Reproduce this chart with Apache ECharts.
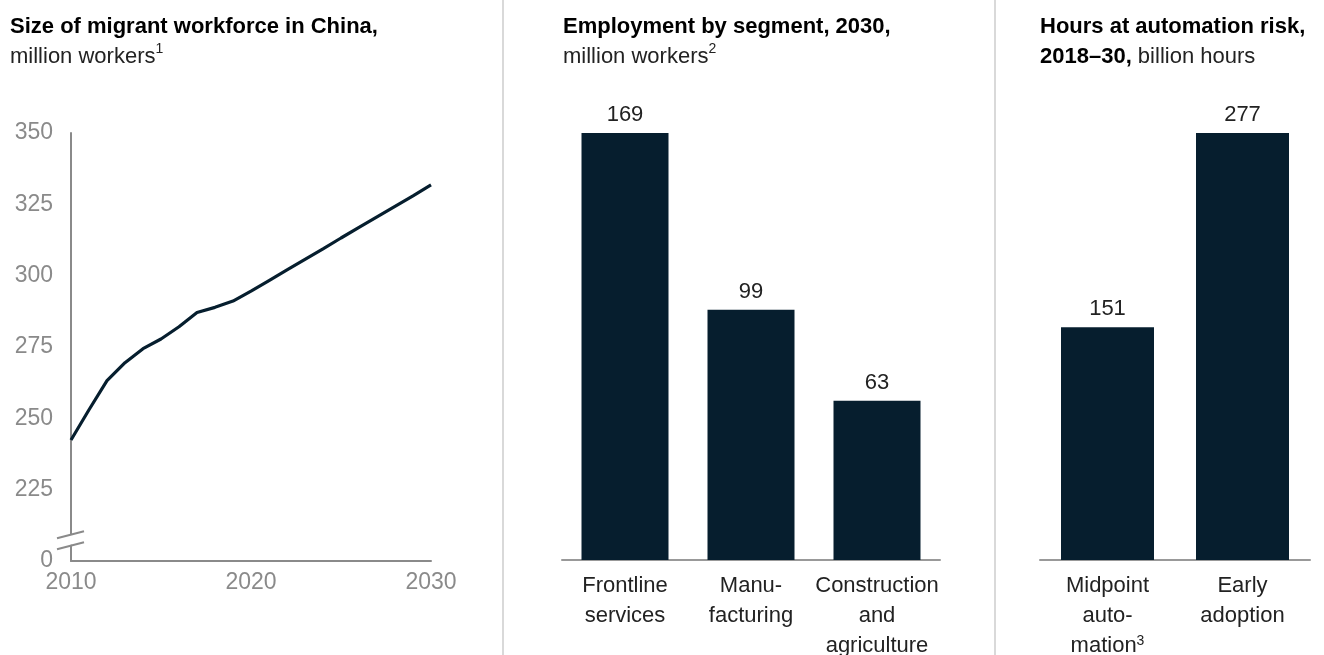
<!DOCTYPE html>
<html>
<head>
<meta charset="utf-8">
<script src="https://cdn.jsdelivr.net/npm/echarts@6/dist/echarts.min.js"></script>
<style>
html,body{margin:0;padding:0;background:#fff;}
#chart{width:1324px;height:655px;}
</style>
</head>
<body>
<div id="chart"></div>
<script>
// ---- Data ----
const years = [2010,2011,2012,2013,2014,2015,2016,2017,2018,2019,2020,2021,2022,2023,2024,2025,2026,2027,2028,2029,2030];
const migrantWorkers = [242.4,253,263.2,269.5,274.4,277.8,282.1,287.1,288.9,291.1,294.6,298.3,302,305.7,309.4,313.2,316.9,320.6,324.3,328,331.8];
const yTicks = [200,225,250,275,300,325,350]; // 200 position is shown as "0" (broken axis)
const xTicks = [2010,2020,2030];

const segmentNames = ['Frontline\nservices','Manu-\nfacturing','Construction\nand\nagriculture'];
const segmentValues = [169,99,63];

const scenarioNames = ['Midpoint\nauto-\nmation{s|3}','Early\nadoption'];
const scenarioValues = [151,277];

// ---- Styles ----
const FONT = 'Liberation Sans';
const NAVY = '#061e2e';
const GRAY = '#8a8a8a';

const chart = echarts.init(document.getElementById('chart'), null, {renderer:'canvas'});

const titleRich = {
  b:{fontFamily:FONT,fontWeight:'bold',fontSize:22,color:'#000',lineHeight:30},
  n:{fontFamily:FONT,fontWeight:'normal',fontSize:22,color:'#222',lineHeight:30},
  s:{fontFamily:FONT,fontWeight:'normal',fontSize:14,color:'#222',lineHeight:30,verticalAlign:'top',padding:[0,0,10,0]}
};
const catRich = {
  s:{fontFamily:FONT,fontSize:14,color:'#222',padding:[0,0,10,0]}
};

const option = {
  backgroundColor:'#fff',
  animation:false,
  textStyle:{fontFamily:FONT},
  title:[
    {left:10,top:12,padding:0,text:'{b|Size of migrant workforce in China,}\n{n|million workers}{s|1}',textStyle:{rich:titleRich}},
    {left:563,top:12,padding:0,text:'{b|Employment by segment, 2030,}\n{n|million workers}{s|2}',textStyle:{rich:titleRich}},
    {left:1040,top:12,padding:0,text:'{b|Hours at automation risk,}\n{b|2018\u201330,}{n| billion hours}',textStyle:{rich:titleRich}}
  ],
  grid:[
    {left:71,right:893,top:133,bottom:94,outerBoundsMode:'none'},
    {left:562,width:378,top:133,bottom:95,outerBoundsMode:'none'},
    {left:1040,width:270,top:133,bottom:95,outerBoundsMode:'none'}
  ],
  xAxis:[
    {gridIndex:0,type:'value',min:2010,max:2030,interval:10,
      axisLine:{show:true,lineStyle:{color:GRAY,width:2}},axisTick:{show:false},splitLine:{show:false},
      axisLabel:{color:GRAY,fontSize:23,margin:10,fontFamily:FONT,formatter:v=>xTicks.includes(v)?String(v):''}},
    {gridIndex:1,type:'category',data:segmentNames,
      axisLine:{show:true,lineStyle:{color:'#999',width:2}},axisTick:{show:false},
      axisLabel:{color:'#222',fontSize:22,lineHeight:30,margin:11,fontFamily:FONT,interval:0}},
    {gridIndex:2,type:'category',data:scenarioNames,
      axisLine:{show:true,lineStyle:{color:'#999',width:2}},axisTick:{show:false},
      axisLabel:{color:'#222',fontSize:22,lineHeight:30,margin:11,fontFamily:FONT,interval:0,rich:catRich}}
  ],
  yAxis:[
    {gridIndex:0,type:'value',min:200,max:350,interval:25,
      axisLine:{show:true,lineStyle:{color:GRAY,width:2}},axisTick:{show:false},splitLine:{show:false},
      axisLabel:{color:GRAY,fontSize:23,margin:18,fontFamily:FONT,formatter:v=>v===200?'0':String(v)}},
    {gridIndex:1,type:'value',min:0,max:'dataMax',show:false,splitLine:{show:false}},
    {gridIndex:2,type:'value',min:0,max:'dataMax',show:false,splitLine:{show:false}}
  ],
  series:[
    {type:'line',xAxisIndex:0,yAxisIndex:0,data:years.map((y,i)=>[y,migrantWorkers[i]]),
      showSymbol:false,symbol:'none',lineStyle:{color:NAVY,width:3.2},z:3},
    {type:'bar',xAxisIndex:1,yAxisIndex:1,data:segmentValues,barWidth:87,
      itemStyle:{color:NAVY},
      label:{show:true,position:'top',distance:7,color:'#222',fontSize:22,fontFamily:FONT}},
    {type:'bar',xAxisIndex:2,yAxisIndex:2,data:scenarioValues,barWidth:93,
      itemStyle:{color:NAVY},
      label:{show:true,position:'top',distance:7,color:'#222',fontSize:22,fontFamily:FONT}}
  ]
};
chart.setOption(option);

// Decorations: separators and axis-break marks (positioned via axis scale)
const W = chart.getWidth(), H = chart.getHeight();
const breakPt = chart.convertToPixel({gridIndex:0},[2010,209]);
const bx = breakPt[0], by = breakPt[1];
chart.setOption({
  graphic:[
    {type:'line',shape:{x1:503,y1:0,x2:503,y2:H},style:{stroke:'#d9d9d9',lineWidth:2},silent:true},
    {type:'line',shape:{x1:995,y1:0,x2:995,y2:H},style:{stroke:'#d9d9d9',lineWidth:2},silent:true},
    {type:'polygon',shape:{points:[[bx-6,by+1],[bx+6,by-2.5],[bx+6,by+8],[bx-6,by+11]]},style:{fill:'#fff'},z:10,silent:true},
    {type:'line',shape:{x1:bx-14,y1:by+3,x2:bx+13,y2:by-4},style:{stroke:GRAY,lineWidth:2},z:11,silent:true},
    {type:'line',shape:{x1:bx-14,y1:by+14,x2:bx+13,y2:by+7},style:{stroke:GRAY,lineWidth:2},z:11,silent:true}
  ]
});
</script>
</body>
</html>
